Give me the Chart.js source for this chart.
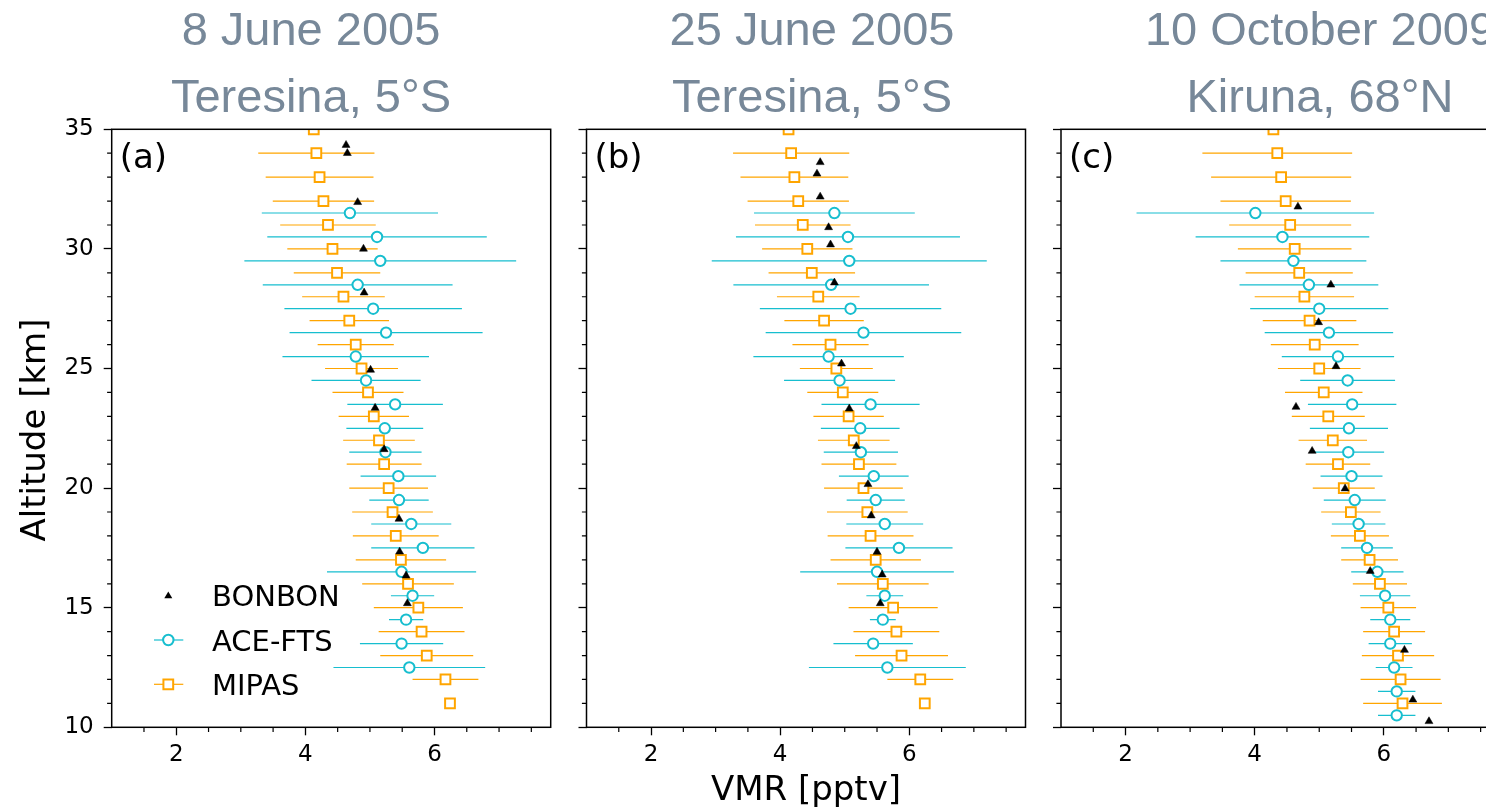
<!DOCTYPE html>
<html><head><meta charset="utf-8">
<script src="https://cdn.jsdelivr.net/npm/chart.js@4/dist/chart.umd.min.js"></script>
<style>
html,body{margin:0;padding:0;background:#fff;overflow:hidden;}
#wrap{position:relative;width:1520px;height:809px;}
canvas{position:absolute;top:0;}
</style></head><body>
<div id="wrap">
<canvas id="cA" width="568" height="809" style="left:0px"></canvas>
<canvas id="cB" width="476" height="809" style="left:568px"></canvas>
<canvas id="cC" width="476" height="809" style="left:1044px"></canvas>
</div>
<script>
// ---------------- data ----------------
const titlesA = ["8 June 2005", "Teresina, 5°S"];
const titlesB = ["25 June 2005", "Teresina, 5°S"];
const titlesC = ["10 October 2009", "Kiruna, 68°N"];
const panelLabels = ["(a)", "(b)", "(c)"];
const seriesNames = ["BONBON", "ACE-FTS", "MIPAS"];
const xLabel = "VMR [pptv]";
const yLabel = "Altitude [km]";
const xMajor = [2, 4, 6];
const xMinor = [1.5, 2.5, 3, 3.5, 4.5, 5, 5.5, 6.5, 7, 7.5];
const yMajor = [10, 15, 20, 25, 30, 35];
const yMinor = [11,12,13,14,16,17,18,19,21,22,23,24,26,27,28,29,31,32,33,34];

// MIPAS (altitude grid 35..11 km)
const mipasAlt = [35,34,33,32,31,30,29,28,27,26,25,24,23,22,21,20,19,18,17,16,15,14,13,12,11];
const mipasA    = [4.13,4.17,4.22,4.28,4.35,4.42,4.49,4.59,4.68,4.78,4.87,4.97,5.06,5.14,5.22,5.29,5.35,5.40,5.48,5.59,5.75,5.80,5.88,6.17,6.24];
const mipasErrA = [0.90,0.90,0.835,0.785,0.74,0.70,0.67,0.64,0.615,0.59,0.565,0.55,0.545,0.555,0.58,0.61,0.625,0.665,0.70,0.71,0.69,0.665,0.72,0.51,null];
const mipasB    = [4.13,4.17,4.22,4.28,4.35,4.42,4.49,4.59,4.68,4.78,4.87,4.97,5.06,5.14,5.22,5.29,5.35,5.40,5.48,5.59,5.75,5.80,5.88,6.17,6.24];
const mipasErrB = [0.90,0.90,0.835,0.785,0.74,0.70,0.67,0.64,0.615,0.59,0.565,0.55,0.545,0.555,0.58,0.61,0.625,0.665,0.70,0.71,0.69,0.665,0.72,0.51,null];
const mipasC    = [4.29,4.35,4.41,4.48,4.55,4.62,4.69,4.77,4.85,4.93,5.00,5.07,5.14,5.21,5.29,5.38,5.49,5.63,5.78,5.94,6.07,6.16,6.22,6.26,6.29];
const mipasErrC = [1.16,1.16,1.085,1.01,0.945,0.88,0.83,0.77,0.725,0.68,0.64,0.60,0.565,0.53,0.50,0.48,0.46,0.45,0.44,0.42,0.43,0.48,0.56,0.62,0.61];

// ACE-FTS
const aceAltAB = [31.5,30.5,29.5,28.5,27.5,26.5,25.5,24.5,23.5,22.5,21.5,20.5,19.5,18.5,17.5,16.5,15.5,14.5,13.5,12.5];
const aceA    = [4.69,5.11,5.16,4.81,5.05,5.25,4.78,4.94,5.39,5.23,5.24,5.44,5.45,5.64,5.82,5.49,5.66,5.56,5.49,5.61];
const aceErrA = [1.365,1.70,2.105,1.47,1.375,1.495,1.135,0.845,0.74,0.595,0.56,0.585,0.46,0.62,0.80,1.155,0.335,0.265,0.645,1.175];
const aceB    = [4.84,5.05,5.07,4.79,5.09,5.29,4.75,4.92,5.40,5.24,5.25,5.45,5.48,5.62,5.84,5.50,5.62,5.59,5.44,5.66];
const aceErrB = [1.245,1.735,2.13,1.515,1.405,1.515,1.165,0.86,0.76,0.61,0.575,0.54,0.45,0.595,0.83,1.19,0.285,0.20,0.615,1.215];
const aceAltC = [31.5,30.5,29.5,28.5,27.5,26.5,25.5,24.5,23.5,22.5,21.5,20.5,19.5,18.5,17.5,16.5,15.5,14.5,13.5,12.5,11.5,10.5];
const aceC    = [4.01,4.43,4.60,4.84,5.00,5.15,5.29,5.44,5.51,5.46,5.45,5.50,5.55,5.61,5.74,5.90,6.02,6.10,6.10,6.16,6.20,6.20];
const aceErrC = [1.84,1.345,1.13,1.075,1.07,0.995,0.87,0.735,0.685,0.605,0.555,0.48,0.48,0.415,0.40,0.405,0.39,0.31,0.335,0.285,0.29,0.29];

// BONBON
const bonAltA = [34.34,34.0,31.95,30.0,28.17,24.94,23.35,21.62,18.71,17.34,16.34,15.18];
const bonA    = [4.63,4.65,4.81,4.90,4.91,5.01,5.08,5.22,5.45,5.46,5.56,5.58];
const bonAltB = [33.62,33.14,32.18,30.90,30.18,28.59,25.20,23.32,21.75,20.16,18.85,17.33,16.38,15.18];
const bonB    = [4.62,4.57,4.62,4.75,4.78,4.84,4.95,5.07,5.18,5.36,5.41,5.50,5.58,5.55];
const bonAltC = [31.76,28.50,26.93,25.09,23.39,21.55,19.98,16.53,13.23,11.15,10.25];
const bonC    = [4.67,5.18,4.99,5.26,4.64,4.89,5.40,5.79,6.32,6.45,6.70];

// ---------------- style ----------------
const ACE_COLOR = '#17becf';
const MIPAS_COLOR = '#ffa500';
const TITLE_COLOR = '#778899';
const TOP = 129.3, BOTTOM = 727.3, H = 809;

function pts(xs, ys) { return xs.map((v, i) => ({x: v, y: ys[i]})); }
function errSegs(xs, errs, ys) {
  const d = [];
  xs.forEach((v, i) => {
    if (errs[i] == null) return;
    d.push({x: v - errs[i], y: ys[i]}, {x: v + errs[i], y: ys[i]}, {x: null, y: null});
  });
  return d;
}

function buildDatasets(bx, by, ax, ae, ay, mx, me, my) {
  return [
    {label: seriesNames[0], data: pts(bx, by), pointStyle: 'triangle', pointRadius: 4.6,
     backgroundColor: '#000', borderColor: '#000', borderWidth: 0.5, clip: 0},
    {label: seriesNames[1], data: pts(ax, ay), pointStyle: 'circle', pointRadius: 5.2,
     backgroundColor: '#fff', borderColor: ACE_COLOR, borderWidth: 2, clip: 0},
    {label: seriesNames[2], data: pts(mx, my), pointStyle: 'rect', pointRadius: 6.9,
     backgroundColor: '#fff', borderColor: MIPAS_COLOR, borderWidth: 2, clip: 0},
    {type: 'line', label: 'ace-err', data: errSegs(ax, ae, ay), borderColor: ACE_COLOR,
     borderWidth: 1.2, pointRadius: 0, spanGaps: false, fill: false, clip: 0},
    {type: 'line', label: 'mipas-err', data: errSegs(mx, me, my), borderColor: MIPAS_COLOR,
     borderWidth: 1.2, pointRadius: 0, spanGaps: false, fill: false, clip: 0}
  ];
}

function decoPlugin(p) {
  return {
    id: 'deco',
    afterDraw(chart) {
      const ctx = chart.ctx, ca = chart.chartArea, xs = chart.scales.x, ys = chart.scales.y;
      ctx.save();
      ctx.strokeStyle = '#000';
      ctx.lineWidth = 1.2;
      ctx.beginPath();
      xMinor.forEach(v => { const px = xs.getPixelForValue(v); ctx.moveTo(px, ca.bottom); ctx.lineTo(px, ca.bottom + 4.6); });
      yMinor.forEach(v => { const py = ys.getPixelForValue(v); ctx.moveTo(ca.left, py); ctx.lineTo(ca.left - 4.6, py); });
      ctx.stroke();
      ctx.lineWidth = 1.5;
      ctx.strokeRect(ca.left, ca.top, ca.right - ca.left, ca.bottom - ca.top);
      // panel letter
      ctx.fillStyle = '#000';
      ctx.font = '34px "DejaVu Sans"';
      ctx.textAlign = 'left';
      ctx.textBaseline = 'alphabetic';
      ctx.fillText(p.letter, ca.left + 8, 167.8);
      // title
      ctx.fillStyle = TITLE_COLOR;
      ctx.font = '47px "Liberation Sans"';
      ctx.textAlign = 'center';
      ctx.fillText(p.title[0], p.titleX - p.offset, 45);
      ctx.fillText(p.title[1], p.titleX - p.offset, 111.7);
      if (p.extra) p.extra(ctx, chart, p);
      ctx.restore();
    }
  };
}

function legendAndYLabel(ctx, chart, p) {
  // y-axis title
  ctx.save();
  ctx.fillStyle = '#000';
  ctx.font = '34px "DejaVu Sans"';
  ctx.translate(45, 430);
  ctx.rotate(-Math.PI / 2);
  ctx.textAlign = 'center';
  ctx.textBaseline = 'alphabetic';
  ctx.fillText(yLabel, 0, 0);
  ctx.restore();
  // legend
  const mx = 168.3, x0 = 154, x1 = 183.3, tx = 212;
  const rows = [596, 640, 684.3];
  const bases = [605.7, 650.7, 695];
  ctx.save();
  ctx.fillStyle = '#000';
  ctx.beginPath();
  const r = 4.6;
  ctx.moveTo(mx, rows[0] - r);
  ctx.lineTo(mx + r * Math.sin(2 * Math.PI / 3), rows[0] + r / 2);
  ctx.lineTo(mx - r * Math.sin(2 * Math.PI / 3), rows[0] + r / 2);
  ctx.closePath(); ctx.fill();
  ctx.strokeStyle = ACE_COLOR; ctx.lineWidth = 1.2;
  ctx.beginPath(); ctx.moveTo(x0, rows[1]); ctx.lineTo(x1, rows[1]); ctx.stroke();
  ctx.lineWidth = 2; ctx.fillStyle = '#fff';
  ctx.beginPath(); ctx.arc(mx, rows[1], 5.2, 0, Math.PI * 2); ctx.fill(); ctx.stroke();
  ctx.strokeStyle = MIPAS_COLOR; ctx.lineWidth = 1.2;
  ctx.beginPath(); ctx.moveTo(x0, rows[2]); ctx.lineTo(x1, rows[2]); ctx.stroke();
  ctx.lineWidth = 2;
  const s = 6.9 * Math.SQRT1_2;
  ctx.beginPath(); ctx.rect(mx - s, rows[2] - s, 2 * s, 2 * s); ctx.fill(); ctx.stroke();
  ctx.fillStyle = '#000';
  ctx.font = '29px "DejaVu Sans"';
  ctx.textAlign = 'left';
  ctx.textBaseline = 'alphabetic';
  seriesNames.forEach((n, i) => ctx.fillText(n, tx, bases[i]));
  ctx.restore();
}

function xTitle(ctx, chart, p) {
  ctx.save();
  ctx.fillStyle = '#000';
  ctx.font = '34px "DejaVu Sans"';
  ctx.textAlign = 'center';
  ctx.textBaseline = 'alphabetic';
  ctx.fillText(xLabel, 806 - p.offset, 800);
  ctx.restore();
}

function makeChart(id, p, datasets) {
  const canvas = document.getElementById(id);
  const cw = canvas.width;
  const yW = p.left - p.offset;
  return new Chart(canvas, {
    type: 'scatter',
    data: {datasets},
    options: {
      responsive: false,
      animation: false,
      events: [],
      layout: {padding: {left: 0, right: p.offset + cw - (p.left + 439), top: TOP, bottom: 0}},
      plugins: {legend: {display: false}, tooltip: {enabled: false}, title: {display: false}},
      scales: {
        x: {
          type: 'linear', min: 1, max: 7.8,
          afterFit: s => { s.height = H - BOTTOM; },
          afterBuildTicks: s => { s.ticks = xMajor.map(v => ({value: v})); },
          grid: {display: true, drawOnChartArea: false, drawTicks: true, tickLength: 8, tickWidth: 1.3, tickColor: '#000'},
          border: {display: false},
          ticks: {font: {family: 'DejaVu Sans', size: 23}, color: '#000', padding: 6, maxRotation: 0, autoSkip: false}
        },
        y: {
          type: 'linear', min: 10, max: 35,
          afterFit: s => { s.width = yW; },
          afterBuildTicks: s => { s.ticks = yMajor.map(v => ({value: v})); },
          grid: {display: true, drawOnChartArea: false, drawTicks: true, tickLength: 8, tickWidth: 1.3, tickColor: '#000'},
          border: {display: false},
          ticks: {display: p.showY, font: {family: 'DejaVu Sans', size: 23}, color: '#000', padding: 10, autoSkip: false}
        }
      }
    },
    plugins: [decoPlugin(p)]
  });
}

makeChart('cA', {left: 111.7, offset: 0, letter: panelLabels[0], title: titlesA, titleX: 311, showY: true, extra: legendAndYLabel},
  buildDatasets(bonA, bonAltA, aceA, aceErrA, aceAltAB, mipasA, mipasErrA, mipasAlt));
makeChart('cB', {left: 586.5, offset: 568, letter: panelLabels[1], title: titlesB, titleX: 812, showY: false, extra: xTitle},
  buildDatasets(bonB, bonAltB, aceB, aceErrB, aceAltAB, mipasB, mipasErrB, mipasAlt));
makeChart('cC', {left: 1061, offset: 1044, letter: panelLabels[2], title: titlesC, titleX: 1320, showY: false},
  buildDatasets(bonC, bonAltC, aceC, aceErrC, aceAltC, mipasC, mipasErrC, mipasAlt));
</script>
</body></html>
